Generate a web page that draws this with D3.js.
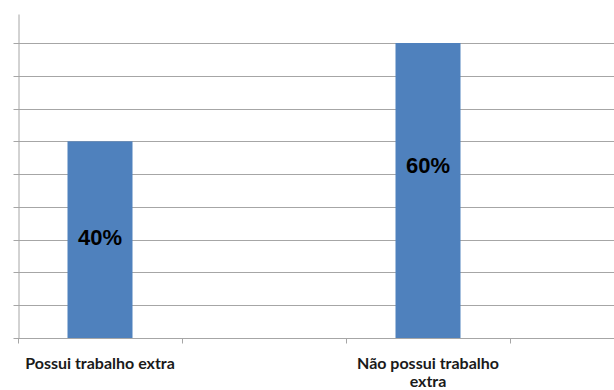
<!DOCTYPE html>
<html>
<head>
<meta charset="utf-8">
<script src="https://cdn.jsdelivr.net/npm/d3@7"></script>
<style>
  html, body { margin: 0; padding: 0; background: #fff; }
  svg { display: block; }
</style>
</head>
<body>
<svg id="chart" width="614" height="390"></svg>
<script>
// Share of respondents with / without an extra job
const categories = ["Possui trabalho extra", "Não possui trabalho extra"];
const values = [40, 60];
// Vertical anchor (in % units) for each value label inside its bar
const labelAt = [20.5, 35.1];
// Gridline steps on the value axis (every 1/9 of 60%)
const gridTicks = d3.range(0, 10).map(i => i * 60 / 9);
const axisMax = 65.9;

const svg = d3.select("#chart");
const plot = { left: 18, bottom: 338, top: 14 };

// Category slots: every other slot is left empty
const slots = [categories[0], "slot-b", categories[1], "slot-d"];
const x = d3.scaleBand().domain(slots).range([plot.left, plot.left + 164 * 4]).padding(0);
const y = d3.scaleLinear().domain([0, 60]).range([plot.bottom, 43]);

const grid = "#a6a6a6";

// Horizontal gridlines
svg.append("g").selectAll("line")
  .data(gridTicks.slice(1))
  .join("line")
  .attr("x1", plot.left).attr("x2", 614)
  .attr("y1", d => Math.round(y(d)) + 0.5).attr("y2", d => Math.round(y(d)) + 0.5)
  .attr("stroke", grid).attr("stroke-width", 1);

// Value axis with tick marks and no labels
const yAxis = d3.axisLeft(y.copy().domain([0, axisMax]).range([plot.bottom, plot.top]))
  .tickValues(gridTicks).tickSize(5).tickFormat("").tickSizeOuter(0);
const yg = svg.append("g").attr("transform", `translate(${plot.left + 0.5},0)`).call(yAxis);
yg.selectAll("path, line").attr("stroke", grid);
yg.selectAll(".tick").attr("transform", d => `translate(0,${Math.round(y(d)) + 0.5})`);

// Bars
const barW = 65;
svg.append("g").selectAll("rect")
  .data(values)
  .join("rect")
  .attr("x", (d, i) => x(categories[i]) + (x.bandwidth() - barW) / 2)
  .attr("y", d => y(d))
  .attr("width", barW)
  .attr("height", d => y(0) - y(d))
  .attr("fill", "#4f81bd");

// Category axis: boundary ticks between slots
const xg = svg.append("g").attr("transform", `translate(0,${plot.bottom + 0.5})`);
xg.append("line").attr("x1", plot.left).attr("x2", 614).attr("stroke", grid);
xg.selectAll("line.tk")
  .data(d3.range(0, 4))
  .join("line").attr("class", "tk")
  .attr("x1", i => Math.round(plot.left + i * x.step()) + 0.5)
  .attr("x2", i => Math.round(plot.left + i * x.step()) + 0.5)
  .attr("y1", 0).attr("y2", 5)
  .attr("stroke", grid);

// Category labels, wrapped onto lines
const catLines = [["Possui trabalho extra"], ["Não possui trabalho", "extra"]];
svg.append("g").selectAll("text")
  .data(categories)
  .join("text")
  .attr("x", d => x(d) + x.bandwidth() / 2)
  .attr("y", 369)
  .attr("text-anchor", "middle")
  .attr("font-family", "Lato, 'Open Sans', sans-serif")
  .attr("font-weight", "bold")
  .attr("font-size", 16)
  .attr("fill", "#1a1a1a")
  .each(function(d, i) {
    d3.select(this).selectAll("tspan")
      .data(catLines[i])
      .join("tspan")
      .attr("x", x(d) + x.bandwidth() / 2)
      .attr("dy", (t, j) => j === 0 ? 0 : 17.5)
      .text(t => t);
  });

// Value labels
svg.append("g").selectAll("text")
  .data(values)
  .join("text")
  .attr("x", (d, i) => x(categories[i]) + x.bandwidth() / 2)
  .attr("y", (d, i) => y(labelAt[i]))
  .attr("dy", "0.36em")
  .attr("text-anchor", "middle")
  .attr("font-family", "'Liberation Sans', Arial, sans-serif")
  .attr("font-weight", "bold")
  .attr("font-size", 22)
  .attr("fill", "#000")
  .text(d => d + "%");
</script>
</body>
</html>
